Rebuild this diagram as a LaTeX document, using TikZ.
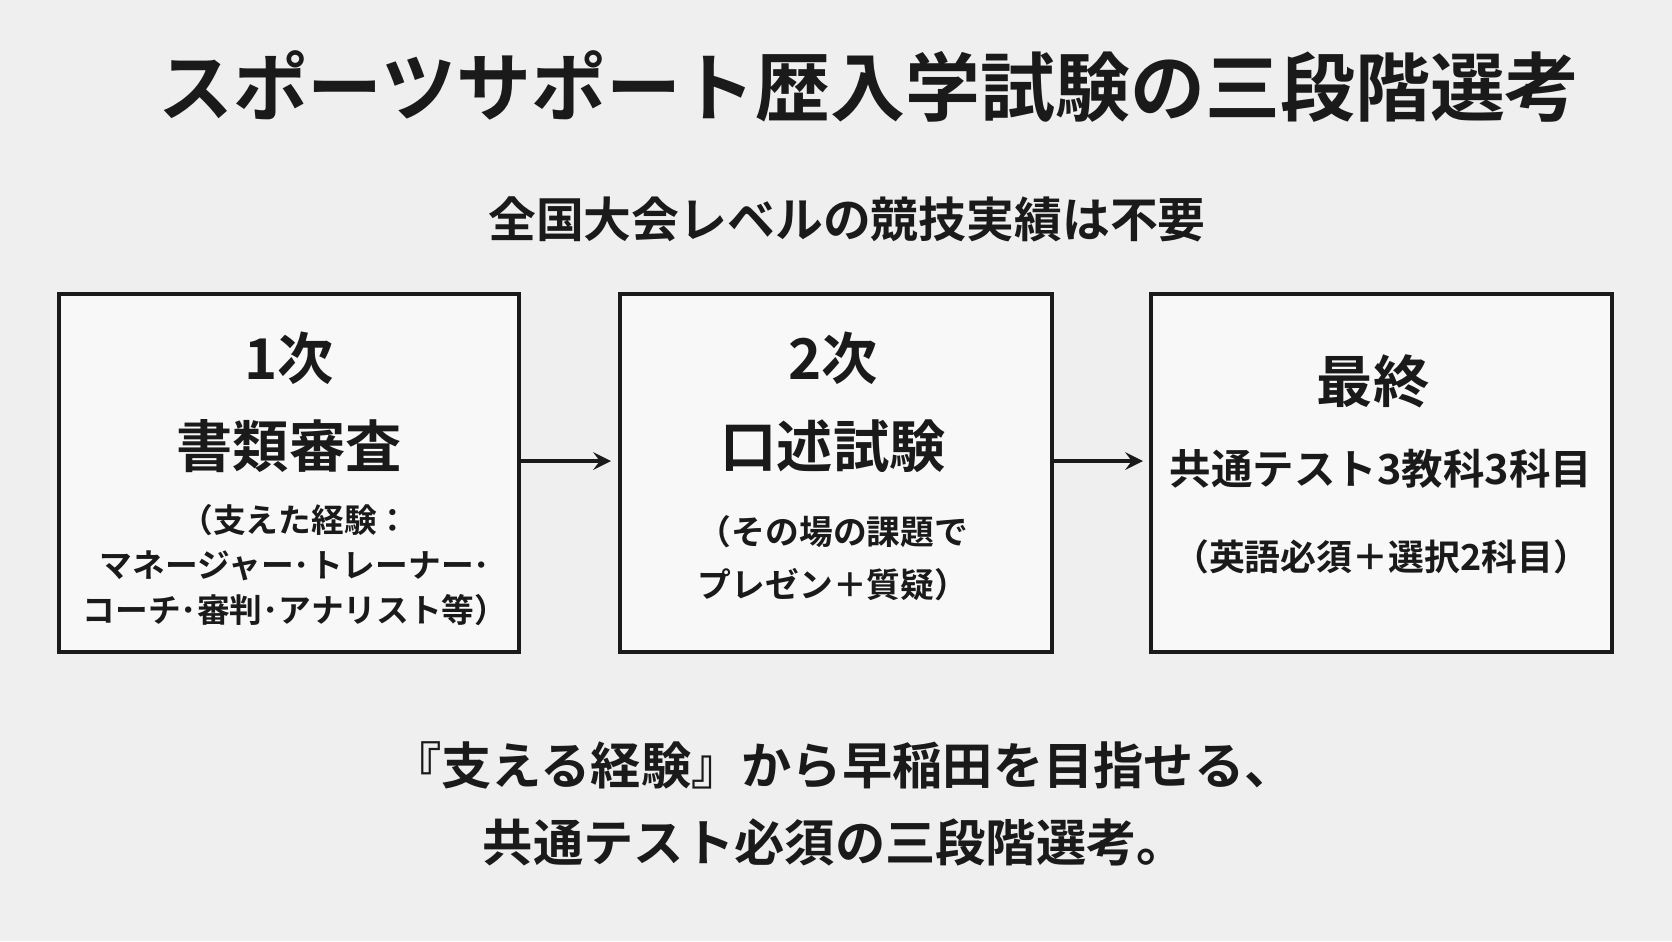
\documentclass[tikz,border=0pt]{standalone}
\usepackage{fontspec}
\setmainfont{Noto Sans CJK JP}[UprightFont=* Bold]
\usetikzlibrary{positioning}
\definecolor{bgcol}{HTML}{EFEFEF}
\definecolor{boxcol}{HTML}{F8F8F8}
\definecolor{inkcol}{HTML}{1A1A1A}

\begin{document}
\begin{tikzpicture}[x=0.01cm,y=-0.01cm,
    stage/.style={draw=inkcol, line width=1.4pt, fill=boxcol},
    big/.style={font=\fontsize{16}{19}\selectfont, text=inkcol},
    small/.style={font=\fontsize{9.3}{12.8}\selectfont, text=inkcol, align=center},
    flow/.style={->, line width=1.2pt, draw=inkcol, >=stealth}]
        \fill[bgcol] (0,0) rectangle (1672,941);
        \useasboundingbox (0,0) rectangle (1672,941);
        \node[text=inkcol, font=\fontsize{21.3}{25}\selectfont] (title) at (869,86)
          {スポーツサポート歴入学試験の三段階選考};
        \node[text=inkcol, font=\fontsize{13.6}{16}\selectfont] (sub) at (847,219)
          {全国大会レベルの競技実績は不要};
        % stages
        \draw[stage] (59,294) rectangle (519,652);
        \draw[stage] (620,294) rectangle (1052,652);
        \draw[stage] (1151,294) rectangle (1612,652);
        \coordinate (b1e) at (519,461);
        \coordinate (b2w) at (611,461);
        \coordinate (b2e) at (1052,461);
        \coordinate (b3w) at (1143,461);
        \draw[flow] (b1e) -- (b2w);
        \draw[flow] (b2e) -- (b3w);
        \node[big] (s1a) at (289,358) {1次};
        \node[big] (s1b) at (289,446) {書類審査};
        \node[small] (s1c) at (295,565)
          {（支えた経験：\\マネージャー･トレーナー･\\コーチ･審判･アナリスト等）};
        \node[big] (s2a) at (833,358) {2次};
        \node[big] (s2b) at (833,446) {口述試験};
        \node[small, font=\fontsize{9.6}{15}\selectfont] (s2c) at (833,558)
          {（その場の課題で\\プレゼン＋質疑）};
        \node[text=inkcol, font=\fontsize{16}{19}\selectfont] (s3a) at (1373,381) {最終};
        \node[text=inkcol, font=\fontsize{11.8}{14}\selectfont] (s3b) at (1381,469)
          {共通テスト3教科3科目};
        \node[small, font=\fontsize{10.2}{13}\selectfont] (s3c) at (1381,557)
          {（英語必須＋選択2科目）};
        % closing lines
        \node[text=inkcol, font=\fontsize{14.3}{17}\selectfont] (end1) at (843,765)
          {『支える経験』から早稲田を目指せる、};
        \node[text=inkcol, font=\fontsize{14.3}{17}\selectfont] (end2) at (835,842)
          {共通テスト必須の三段階選考。};
\end{tikzpicture}
\end{document}
